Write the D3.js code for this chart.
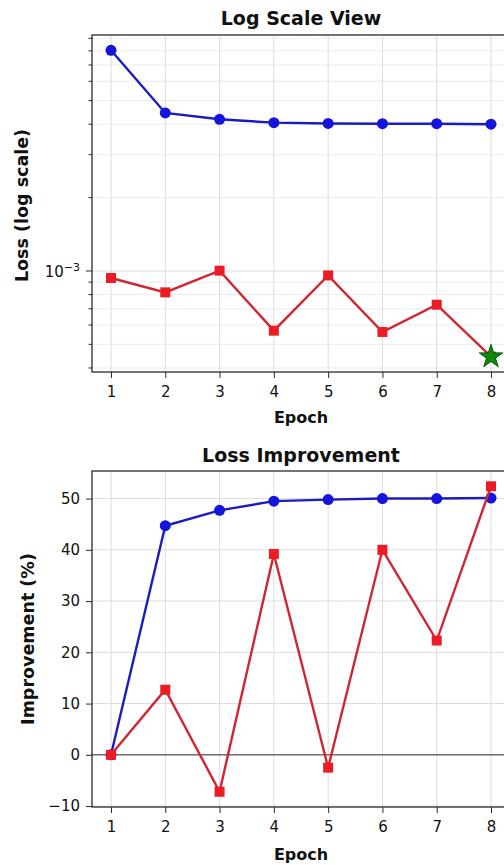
<!DOCTYPE html>
<html>
<head>
<meta charset="utf-8">
<script src="https://cdn.jsdelivr.net/npm/d3@7"></script>
<style>
  html, body { margin: 0; padding: 0; background: #fff; }
  svg { display: block; font-family: "DejaVu Sans", sans-serif; }
</style>
</head>
<body>
<svg id="chart" width="504" height="865"></svg>
<script>
// ---------- data ----------
const epochs = [1, 2, 3, 4, 5, 6, 7, 8];
const blueLoss = [8.04e-3, 4.45e-3, 4.19e-3, 4.06e-3, 4.03e-3, 4.02e-3, 4.02e-3, 4.00e-3];
const redLoss  = [9.36e-4, 8.17e-4, 1.003e-3, 5.69e-4, 9.59e-4, 5.62e-4, 7.27e-4, 4.45e-4];
const blueImprovement = [0, 44.7, 47.7, 49.5, 49.8, 50.0, 50.0, 50.1];
const redImprovement  = [0, 12.7, -7.2, 39.2, -2.5, 40.0, 22.3, 52.4];
const bestEpoch = 8;
const impTicks = [-10, 0, 10, 20, 30, 40, 50];
const impTickLabels = ["\u221210", "0", "10", "20", "30", "40", "50"];
const titles = ["Log Scale View", "Loss Improvement"];
const yLabels = ["Loss (log scale)", "Improvement (%)"];
const xLabel = "Epoch";

// ---------- style ----------
const BLUE_LINE = "#1c1cbc", BLUE_MK = "#1414dc";
const RED_LINE = "#d02634", RED_MK = "#ec1c26";
const GRID = "#dcdcdc", GRID_MINOR = "#ececec", SPINE = "#2a2a2a", TXT = "#111";
const LW = 2.4, MR = 5.5, MS = 10;

const svg = d3.select("#chart");

function pad(lo, hi) { const m = (hi - lo) * 0.05; return [lo - m, hi + m]; }

const L = 92, R = 510;
const x = d3.scaleLinear().domain(pad(1, 8)).range([L, R]);

// ================= TOP: log scale =================
const topBox = {y0: 35, y1: 372};
const allLoss = blueLoss.concat(redLoss);
const lmin = Math.log10(d3.min(allLoss)), lmax = Math.log10(d3.max(allLoss));
const ld = pad(lmin, lmax);
const yLog = d3.scaleLog().domain([Math.pow(10, ld[0]), Math.pow(10, ld[1])]).range([topBox.y1, topBox.y0]);

const g1 = svg.append("g");
const decades = [-4, -3, -2];
const logTicks = [];
decades.forEach(e => { for (let k = 1; k <= 9; k++) logTicks.push({v: k * Math.pow(10, e), major: k === 1, e}); });
const logVis = logTicks.filter(t => t.v >= yLog.domain()[0] && t.v <= yLog.domain()[1]);

// grid
g1.selectAll(".hg").data(logVis).enter().append("line")
  .attr("x1", L).attr("x2", R)
  .attr("y1", d => yLog(d.v)).attr("y2", d => yLog(d.v))
  .attr("stroke", d => d.major ? GRID : GRID_MINOR).attr("stroke-width", 1);
g1.selectAll(".vg").data(epochs).enter().append("line")
  .attr("x1", d => x(d)).attr("x2", d => x(d))
  .attr("y1", topBox.y0).attr("y2", topBox.y1)
  .attr("stroke", GRID).attr("stroke-width", 1);

// y ticks
g1.selectAll(".yt").data(logVis).enter().append("line")
  .attr("x1", d => d.major ? L - 6 : L - 3.5).attr("x2", L)
  .attr("y1", d => yLog(d.v)).attr("y2", d => yLog(d.v))
  .attr("stroke", SPINE).attr("stroke-width", 1);
logVis.filter(d => d.major).forEach(d => {
  const t = g1.append("text").attr("x", 80).attr("y", yLog(d.v)).attr("dy", "0.38em")
    .attr("text-anchor", "end").attr("font-size", 15).attr("fill", TXT);
  t.append("tspan").text("10");
  t.append("tspan").attr("font-size", 11).attr("dy", "-0.55em").text("\u2212" + Math.abs(d.e));
});

// x axis
const xAxis1 = d3.axisBottom(x).tickValues(epochs).tickSize(6).tickPadding(8).tickFormat(d3.format("d"));
const xa1 = g1.append("g").attr("transform", `translate(0,${topBox.y1})`).call(xAxis1);
xa1.select(".domain").remove();
xa1.selectAll("line").attr("stroke", SPINE);
xa1.selectAll("text").attr("font-size", 15).attr("fill", TXT).attr("font-family", "DejaVu Sans");

// frame
g1.append("rect").attr("x", L).attr("y", topBox.y0).attr("width", R - L).attr("height", topBox.y1 - topBox.y0)
  .attr("fill", "none").attr("stroke", SPINE).attr("stroke-width", 1.3);

// lines
const line1 = d3.line().x((d, i) => x(epochs[i])).y(d => yLog(d));
g1.append("path").datum(blueLoss).attr("d", line1).attr("fill", "none").attr("stroke", BLUE_LINE).attr("stroke-width", LW);
g1.selectAll(".bc").data(blueLoss).enter().append("circle")
  .attr("cx", (d, i) => x(epochs[i])).attr("cy", d => yLog(d)).attr("r", MR).attr("fill", BLUE_MK);
g1.append("path").datum(redLoss).attr("d", line1).attr("fill", "none").attr("stroke", RED_LINE).attr("stroke-width", LW);
g1.selectAll(".rs").data(redLoss).enter().append("rect")
  .attr("x", (d, i) => x(epochs[i]) - MS / 2).attr("y", d => yLog(d) - MS / 2).attr("width", MS).attr("height", MS).attr("fill", RED_MK);
const bi = epochs.indexOf(bestEpoch);
g1.append("path").attr("d", d3.symbol().type(d3.symbolStar).size(170)())
  .attr("transform", `translate(${x(bestEpoch)},${yLog(redLoss[bi])})`)
  .attr("fill", "#0f8a0f").attr("stroke", "#055505").attr("stroke-width", 1);

// texts
g1.append("text").attr("x", (L + R) / 2).attr("y", 25).attr("text-anchor", "middle")
  .attr("font-size", 19).attr("font-weight", "bold").attr("fill", TXT).text(titles[0]);
g1.append("text").attr("x", (L + R) / 2).attr("y", 423).attr("text-anchor", "middle")
  .attr("font-size", 16).attr("font-weight", "bold").attr("fill", TXT).text(xLabel);
g1.append("text").attr("transform", `translate(28,${(topBox.y0 + topBox.y1) / 2 + 2}) rotate(-90)`).attr("text-anchor", "middle")
  .attr("font-size", 17.5).attr("font-weight", "bold").attr("fill", TXT).text(yLabels[0]);

// ================= BOTTOM: improvement =================
const botBox = {y0: 471, y1: 807};
const allImp = blueImprovement.concat(redImprovement);
const yImp = d3.scaleLinear().domain(pad(d3.min(allImp), d3.max(allImp))).range([botBox.y1, botBox.y0]);
const g2 = svg.append("g");

g2.selectAll(".hg").data(impTicks).enter().append("line")
  .attr("x1", L).attr("x2", R).attr("y1", d => yImp(d)).attr("y2", d => yImp(d))
  .attr("stroke", GRID).attr("stroke-width", 1);
g2.selectAll(".vg").data(epochs).enter().append("line")
  .attr("x1", d => x(d)).attr("x2", d => x(d)).attr("y1", botBox.y0).attr("y2", botBox.y1)
  .attr("stroke", GRID).attr("stroke-width", 1);

const yAxis2 = d3.axisLeft(yImp).tickValues(impTicks).tickSize(6).tickPadding(6)
  .tickFormat((d, i) => impTickLabels[i]);
const ya2 = g2.append("g").attr("transform", `translate(${L},0)`).call(yAxis2);
ya2.select(".domain").remove();
ya2.selectAll("line").attr("stroke", SPINE);
ya2.selectAll("text").attr("font-size", 15).attr("fill", TXT).attr("font-family", "DejaVu Sans");

const xa2 = g2.append("g").attr("transform", `translate(0,${botBox.y1})`).call(xAxis1);
xa2.select(".domain").remove();
xa2.selectAll("line").attr("stroke", SPINE);
xa2.selectAll("text").attr("font-size", 15).attr("fill", TXT).attr("font-family", "DejaVu Sans");

g2.append("line").attr("x1", L).attr("x2", R).attr("y1", yImp(0)).attr("y2", yImp(0))
  .attr("stroke", "#707070").attr("stroke-width", 1.5);

g2.append("rect").attr("x", L).attr("y", botBox.y0).attr("width", R - L).attr("height", botBox.y1 - botBox.y0)
  .attr("fill", "none").attr("stroke", SPINE).attr("stroke-width", 1.3);

const line2 = d3.line().x((d, i) => x(epochs[i])).y(d => yImp(d));
g2.append("path").datum(blueImprovement).attr("d", line2).attr("fill", "none").attr("stroke", BLUE_LINE).attr("stroke-width", LW);
g2.selectAll(".bc").data(blueImprovement).enter().append("circle")
  .attr("cx", (d, i) => x(epochs[i])).attr("cy", d => yImp(d)).attr("r", MR).attr("fill", BLUE_MK);
g2.append("path").datum(redImprovement).attr("d", line2).attr("fill", "none").attr("stroke", RED_LINE).attr("stroke-width", LW);
g2.selectAll(".rs").data(redImprovement).enter().append("rect")
  .attr("x", (d, i) => x(epochs[i]) - MS / 2).attr("y", d => yImp(d) - MS / 2).attr("width", MS).attr("height", MS).attr("fill", RED_MK);

g2.append("text").attr("x", (L + R) / 2).attr("y", 462).attr("text-anchor", "middle")
  .attr("font-size", 19).attr("font-weight", "bold").attr("fill", TXT).text(titles[1]);
g2.append("text").attr("x", (L + R) / 2).attr("y", 860).attr("text-anchor", "middle")
  .attr("font-size", 16).attr("font-weight", "bold").attr("fill", TXT).text(xLabel);
g2.append("text").attr("transform", `translate(34,${(botBox.y0 + botBox.y1) / 2}) rotate(-90)`).attr("text-anchor", "middle")
  .attr("font-size", 17.5).attr("font-weight", "bold").attr("fill", TXT).text(yLabels[1]);
</script>
</body>
</html>
